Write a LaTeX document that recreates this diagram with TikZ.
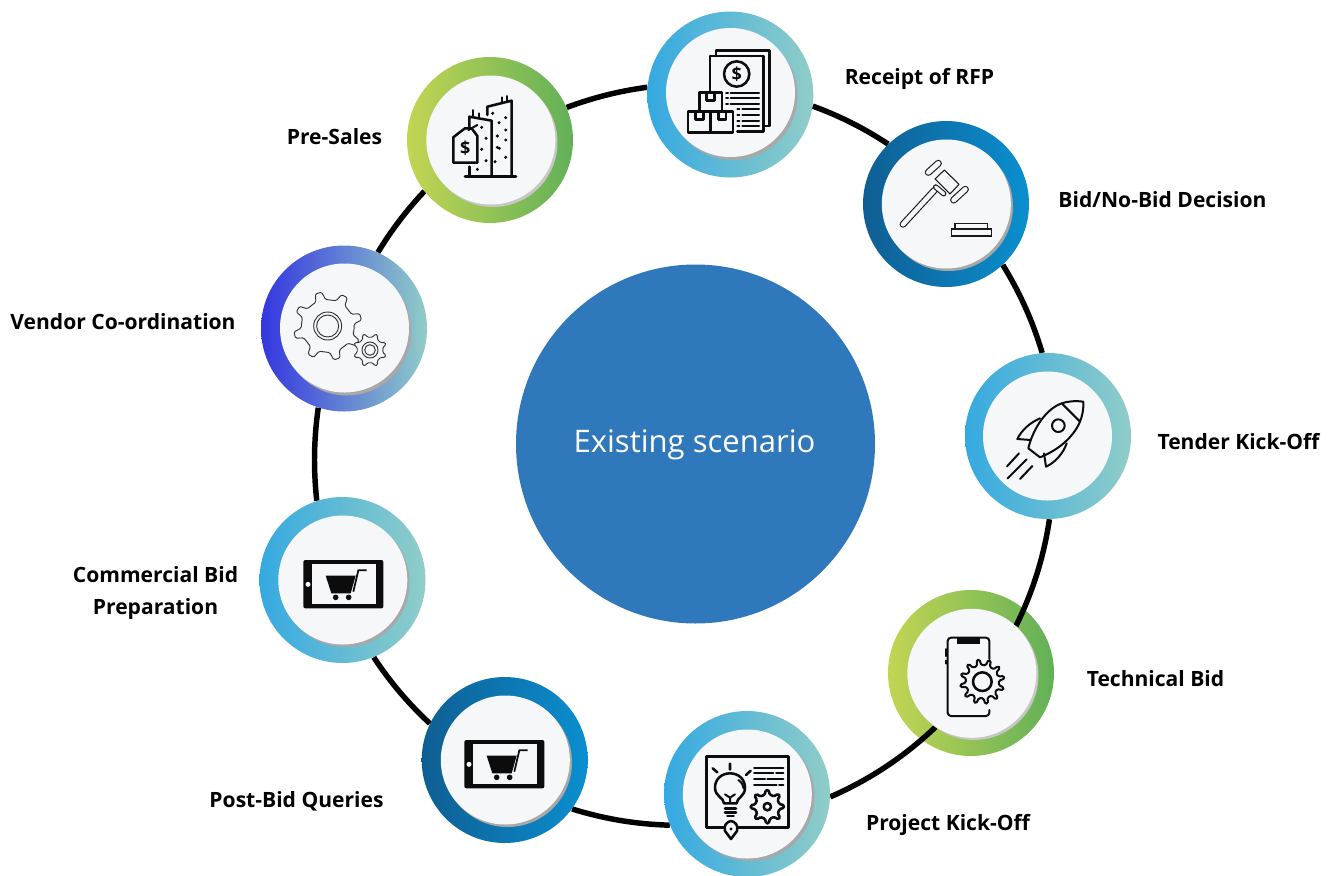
\documentclass[tikz,border=0pt]{standalone}
\usepackage{fontspec}
\setmainfont{Open Sans}
\pgfdeclarelayer{back}
\pgfdeclarelayer{mid}
\pgfsetlayers{back,mid,main}
\definecolor{discc}{HTML}{F6F7F9}
\definecolor{tealL}{HTML}{35A9E1}
\definecolor{tealR}{HTML}{90CDC8}
\definecolor{greenL}{HTML}{C3D553}
\definecolor{greenR}{HTML}{62B058}
\definecolor{blueL}{HTML}{0F5E93}
\definecolor{blueR}{HTML}{0A8FCF}
\definecolor{violL}{HTML}{3436E0}
\definecolor{hubc}{HTML}{2F78BB}
\definecolor{inkc}{HTML}{0C0C0C}
\tikzset{
  x=0.75pt,y=-0.75pt,
  ringnode/.style={circle,inner sep=0pt,minimum size=124.5pt},
  teal/.style={ringnode,left color=tealL,right color=tealR},
  leaf/.style={ringnode,left color=greenL,right color=greenR},
  navy/.style={ringnode,left color=blueL,right color=blueR},
  viol/.style={ringnode,left color=violL,right color=tealR},
  disc/.style={circle,inner sep=0pt,minimum size=96.75pt,fill=discc},
  shade1/.style={circle,inner sep=0pt,minimum size=96.75pt,fill=black!34},
  shade2/.style={circle,inner sep=0pt,minimum size=96.75pt,fill=black!22},
  link/.style={line width=4.1pt,black,looseness=0.88},
  lab/.style={font=\fontsize{15.8}{24}\selectfont\bfseries,inner sep=0pt,align=center,text=black},
  ic/.style={draw=inkc,line width=1.5pt,line cap=round,line join=round},
  icb/.style={ic,line width=1.9pt},
  thin gear/.style={draw=black!80,line width=0.7pt,line join=round,rounded corners=1pt},
}
\newcommand{\gavbar}[3]{%
  \draw[black!90,line width=#3pt+1.7pt,line cap=round] #1 -- #2;
  \draw[discc,line width=#3pt,line cap=round] #1 -- #2;
}
\newcommand{\mygear}[7]{%
  % cx cy rout rin teeth rot style
  \begin{scope}[shift={(#1,#2)}]
  \draw[#7] ({#6}:#4) \foreach \i [evaluate=\i as \a using #6+\i*360/#5] in {1,...,#5}{
     -- ({\a-360/#5*0.74}:#4) -- ({\a-360/#5*0.62}:#3) -- ({\a-360/#5*0.38}:#3) -- ({\a-360/#5*0.26}:#4)
  } -- cycle;
  \end{scope}
}
\newcommand{\carticon}[2]{%
  \begin{scope}[shift={(#1,#2)},x=0.25pt,y=-0.25pt]
  \fill[inkc,rounded corners=1.5pt] (148,210) rectangle (388,355);
  \fill[discc] (175,223) rectangle (365,342);
  \fill[white] (162,283) circle (7.5);
  \fill[inkc] (215,257) -- (305,257) -- (290,310) -- (232,310) -- cycle;
  \draw[inkc,line width=1.3pt] (298,305) -- (313,241) -- (338,241);
  \fill[inkc] (245,322) circle (8.5) (284,322) circle (8.5);
  \end{scope}
}
\begin{document}
\begin{tikzpicture}
\useasboundingbox (0,0) rectangle (1332,875);

% hub
\node[circle,inner sep=0pt,minimum size=269.25pt,fill=hubc] (hub) at (695.5,444) {};
\node[text=white,font=\fontsize{23.3}{30}\selectfont,inner sep=0pt] (hubtext) at (694.5,445) {Existing scenario};

% coloured rings
\node[teal] (rfp) at (730.3,94.5) {};
\node[leaf] (pre) at (490,140) {};
\node[navy] (bid) at (946,204) {};
\node[teal] (tender) at (1048,436) {};
\begin{pgfonlayer}{back}
\node[leaf] (tech) at (971,673) {};
\end{pgfonlayer}
\node[teal] (proj) at (747,794) {};
\node[navy] (post) at (504.7,760) {};
\node[teal] (comm) at (342.5,580) {};
\node[viol] (vendor) at (344,328.5) {};

% shadows
\node[shade1] (rfps) at (733,95.5) {};
\node[shade2] (pres) at (493,142.5) {};
\node[shade1] (bids) at (948.5,206.5) {};
\node[shade2] (techs) at (974,675.5) {};
\node[shade1] (projs) at (750,796.5) {};
\node[shade1] (posts) at (507.5,762.5) {};
\node[shade1] (comms) at (345,582.5) {};
\node[shade1] (vendors) at (347,331) {};

% discs
\node[disc] (rfpd) at (730.5,92.5) {};
\node[disc] (pred) at (490.8,140) {};
\node[disc] (bidd) at (946.3,204) {};
\node[disc] (tenderd) at (1047.5,436) {};
\node[disc] (techd) at (971.8,673.3) {};
\node[disc] (projd) at (747.3,794) {};
\node[disc] (postd) at (505.3,760) {};
\node[disc] (commd) at (342.8,580) {};
\node[disc] (vendord) at (344.5,328) {};

% connectors
\begin{pgfonlayer}{mid}
\draw[link] (vendor.66) to[bend left=5.9] (pre.218);
\draw[link] (pre.23) to[bend left=6.4] (rfp.175);
\draw[link] (rfp.-8) to[bend left=6.6] (bid.134);
\draw[link] (bid.-47) to[bend left=7.5] (tender.94);
\draw[link] (tender.-89) to[bend left=8.8] (techd.47);
\draw[link] (techd.236) to[bend left=9.9] (proj.-2);
\draw[link] (proj.202) to[bend left=7.75] (post.-36);
\draw[link] (post.154) to[bend left=6.75] (comm.-68);
\draw[link] (comm.108) to[bend left=7.1] (vendor.252);
\end{pgfonlayer}

% labels
\node[lab] (lrfp) at (919.5,79) {Receipt of RFP};
\node[lab] (lbid) at (1162.5,200) {Bid/No-Bid Decision};
\node[lab] (ltender) at (1238.5,442) {Tender Kick-Off};
\node[lab] (ltech) at (1155.5,679) {Technical Bid};
\node[lab] (lproj) at (948,825) {Project Kick-Off};
\node[lab] (lpost) at (296.5,801) {Post-Bid Queries};
\node[lab] (lcomm) at (155.5,593) {Commercial Bid\\Preparation};
\node[lab] (lvendor) at (123,322) {Vendor Co-ordination};
\node[lab] (lpre) at (334.5,137) {Pre-Sales};

% icon: receipt of RFP
\begin{scope}[shift={(640,0)},x=0.25pt,y=-0.25pt]
\draw[icb] (228,168) -- (228,152) -- (388,152) -- (388,378) -- (372,378);
\draw[icb] (210,272) -- (210,168) -- (370,168) -- (370,395) -- (292,395);
\draw[icb] (290,222) circle (38);
\node[font=\fontsize{13.5}{13.5}\selectfont\bfseries,text=inkc,inner sep=0pt] (rfpdollar) at (290,222) {\$};
\foreach \y in {278,295,312}{\draw[ic] (258,\y) -- (264,\y) (272,\y) -- (357,\y);}
\foreach \y in {328,345,362,378}{\draw[ic] (292,\y) -- (298,\y) (307,\y) -- (357,\y);}
\draw[icb] (178,332) -- (178,278) -- (246,278) -- (246,332);
\draw[icb] (200,278) -- (200,302) -- (224,302) -- (224,278);
\draw[icb] (144,335) rectangle (279,397);
\draw[icb] (212,335) -- (212,397);
\draw[icb] (167,335) -- (167,358) -- (190,358) -- (190,335);
\draw[icb] (235,335) -- (235,358) -- (258,358) -- (258,335);
\end{scope}

% icon: pre-sales
\begin{scope}[shift={(400,50)},x=0.25pt,y=-0.25pt]
\draw[icb] (195,380) -- (348,380);
\draw[icb] (262,195) -- (262,170) -- (335,152) -- (335,380);
\draw[icb] (275,380) -- (275,212) -- (208,200) -- (208,232);
\draw[icb] (208,350) -- (208,378);
\draw[ic] (220,180) -- (220,197) (238,190) -- (238,202) (305,142) -- (305,160) (320,138) -- (320,155);
\fill[inkc] \foreach \p in {(232,358),(258,332),(245,298),(258,265),(245,232),(278,190),(297,218),(317,203),(292,258),(317,240),(292,292),(317,270),(298,295),(317,322),(285,335)}{ \p circle (5)};
\draw[icb,fill=discc] (175,250) -- (195,235) -- (215,235) -- (232,258) -- (232,338) -- (160,338) -- (160,262) -- cycle;
\draw[ic] (205,240) -- (232,225);
\node[font=\fontsize{13.5}{13.5}\selectfont\bfseries,text=inkc,inner sep=0pt] (predollar) at (196,295) {\$};
\end{scope}

% icon: gavel
\begin{scope}[shift={(855,115)},x=0.25pt,y=-0.25pt]
\gavbar{(144,328)}{(238,226)}{3.4}
\gavbar{(242,216)}{(266,236)}{2.4}
\draw[draw=black!90,line width=0.8pt,fill=discc,line join=round] (240,192) -- (268,165) -- (312,208) -- (285,237) -- cycle;
\gavbar{(220,172)}{(250,145)}{3.6}
\gavbar{(296,255)}{(331,223)}{3.6}
\draw[draw=black!90,line width=0.8pt] (300,325) rectangle (398,342);
\draw[draw=black!90,line width=0.8pt] (290,342) rectangle (410,363);
\end{scope}

% icon: rocket
\begin{scope}[shift={(960,350)},x=0.25pt,y=-0.25pt]
\draw[ic] (305,160) .. controls (325,153) and (350,152) .. (370,155) .. controls (371,175) and (368,195) .. (360,215) .. controls (340,262) and (295,300) .. (240,322) -- (205,295) .. controls (215,250) and (250,180) .. (305,160) -- (360,215);
\draw[ic] (295,227) circle (19);
\draw[ic] (240,205) .. controls (210,218) and (185,240) .. (172,267) -- (212,270);
\draw[ic] (320,280) .. controls (310,310) and (285,338) .. (258,350) -- (252,310);
\draw[ic] (177,310) -- (141,349) (200,328) -- (143,385) (217,348) -- (180,387);
\end{scope}

% icon: technical bid
\begin{scope}[shift={(880,585)},x=0.25pt,y=-0.25pt]
\draw[ic,rounded corners=2.5pt] (328,222) -- (328,158) -- (203,158) -- (203,393) -- (328,393) -- (328,375);
\fill[inkc] (230,158) rectangle (300,178);
\draw[ic] (197,192) -- (197,213) (197,227) -- (197,236);
\mygear{307}{290}{67}{50}{12}{4}{ic,rounded corners=1pt,fill=discc}
\draw[icb] (307,290) circle (28);
\end{scope}

% icon: project kick-off
\begin{scope}[shift={(655,705)},x=0.25pt,y=-0.25pt]
\draw[icb] (208,368) -- (155,368) -- (155,155) -- (400,155) -- (400,368) -- (250,368);
\draw[icb] (228,402) -- (210,378) .. controls (205,362) and (215,350) .. (228,348) .. controls (241,350) and (251,362) .. (246,378) -- cycle;
\fill[inkc] (228,372) circle (5);
\draw[icb] (207,295) .. controls (207,278) and (180,275) .. (180,248) .. controls (180,222) and (200,205) .. (225,205) .. controls (250,205) and (270,222) .. (270,248) .. controls (270,275) and (245,278) .. (245,295) -- cycle;
\draw[ic] (250,225) .. controls (260,232) and (265,240) .. (266,250);
\draw[ic] (225,295) -- (225,278) (210,268) -- (225,278) -- (240,268);
\draw[icb] (210,310) -- (243,310) (210,322) -- (243,322) (217,333) -- (236,333);
\draw[icb] (225,176) -- (225,194) (173,190) -- (187,202) (287,197) -- (273,210);
\draw[ic] (297,190) -- (385,190) (297,205) -- (355,205) (363,205) -- (385,205) (297,222) -- (330,222) (337,222) -- (385,222) (297,240) -- (365,240) (372,240) -- (385,240);
\mygear{337}{305}{50}{37}{8}{22}{icb,rounded corners=1pt}
\draw[icb] (337,305) circle (11);
\end{scope}

\carticon{415}{670}
\carticon{254}{490}

% icon: vendor gears
\begin{scope}[shift={(255,240)},x=0.25pt,y=-0.25pt]
\mygear{218}{258}{103}{80}{8}{7}{thin gear}
\draw[thin gear] (218,258) circle (42) (218,258) circle (33);
\mygear{345}{330}{50}{39}{8}{0}{thin gear,fill=discc}
\draw[thin gear] (345,330) circle (24) (345,330) circle (16);
\end{scope}
\end{tikzpicture}
\end{document}
